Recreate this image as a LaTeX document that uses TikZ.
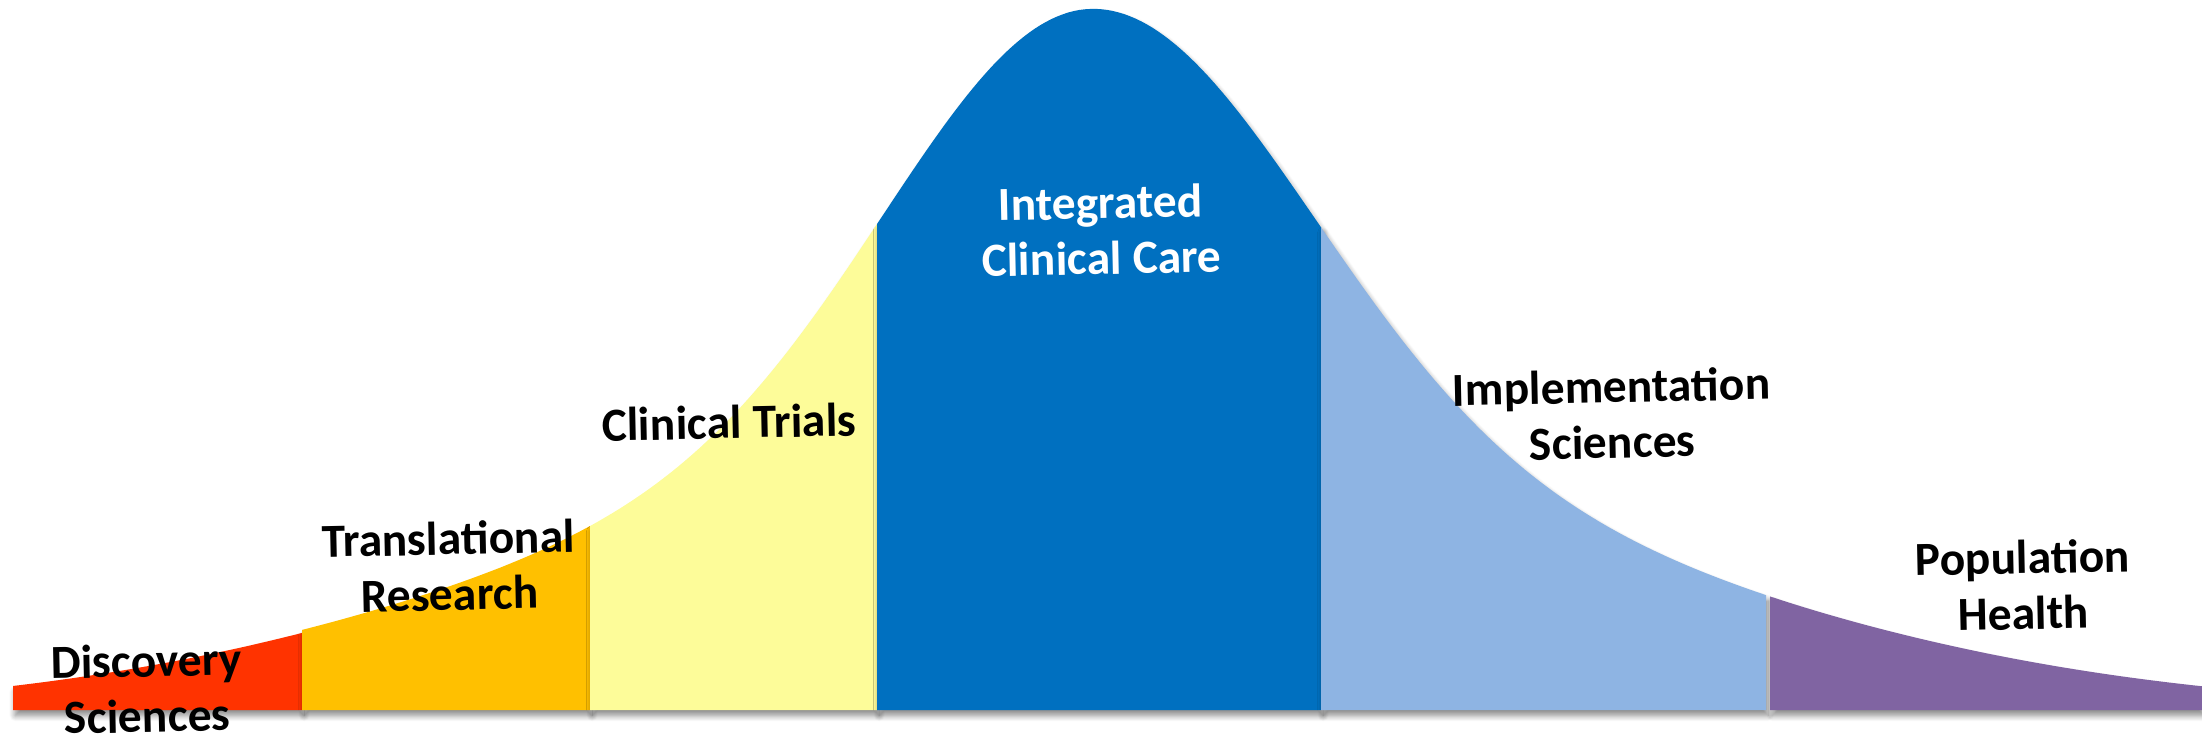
\documentclass[tikz,border=0pt]{standalone}
\usepackage{fontspec}
\setmainfont{Carlito}
\usetikzlibrary{shadows.blur}
\definecolor{cRed}{HTML}{FF3300}
\definecolor{cOrange}{HTML}{FFC000}
\definecolor{cYellow}{HTML}{FDFC99}
\definecolor{cBlue}{HTML}{0070C0}
\definecolor{cLightBlue}{HTML}{8EB4E3}
\definecolor{cPurple}{HTML}{8064A2}
\begin{document}
\begin{tikzpicture}[x=0.01cm,y=-0.01cm,
  declare function={bell(\t)=711-426*exp(-((\t-1093)/100)^2/((\t<1093)?7.8414:8.7))-276*exp(-((\t-1093)/100)^2/51);},
  band/.style={blur shadow={shadow xshift=0.6pt, shadow yshift=-1.6pt, shadow blur radius=1.6pt, shadow opacity=45, shadow blur steps=8}},
  lbl/.style={align=center, font=\fontsize{13.5pt}{15.8pt}\selectfont\bfseries, rotate=1.2, inner sep=0pt}]
\useasboundingbox (0,0) rectangle (2202,739);
% bands
\fill[cRed, band] (13,710) -- plot[domain=13:302, samples=30] (\x,{bell(\x)+3}) -- (302,710) -- cycle;
\fill[cOrange, band] (302,710) -- plot[domain=302:590, samples=30] (\x,{bell(\x)}) -- (590,710) -- cycle;
\fill[cYellow, band] (590,710) -- plot[domain=590:877, samples=40] (\x,{bell(\x)}) -- (877,710) -- cycle;
\fill[cBlue, band] (877,710) -- plot[domain=877:1321, samples=80] (\x,{bell(\x)}) -- (1321,710) -- cycle;
\fill[cLightBlue, band] (1321,710) -- plot[domain=1321:1766, samples=60] (\x,{bell(\x)}) -- (1766,710) -- cycle;
\fill[cPurple, band] (1770,710) -- plot[domain=1770:2202, samples=50] (\x,{bell(\x)}) -- (2202,710) -- cycle;
% labels
\node[lbl] (disc) at (147,688) {Discovery\\Sciences};
\node[lbl] (trans) at (449,566) {Translational\\Research};
\node[lbl] (trials) at (729,422) {Clinical Trials};
\node[lbl, text=white] (care) at (1101,230) {Integrated\\Clinical Care};
\node[lbl] (impl) at (1612,414) {Implementation\\Sciences};
\node[lbl] (pop) at (2023,585) {Population\\Health};
\end{tikzpicture}
\end{document}
